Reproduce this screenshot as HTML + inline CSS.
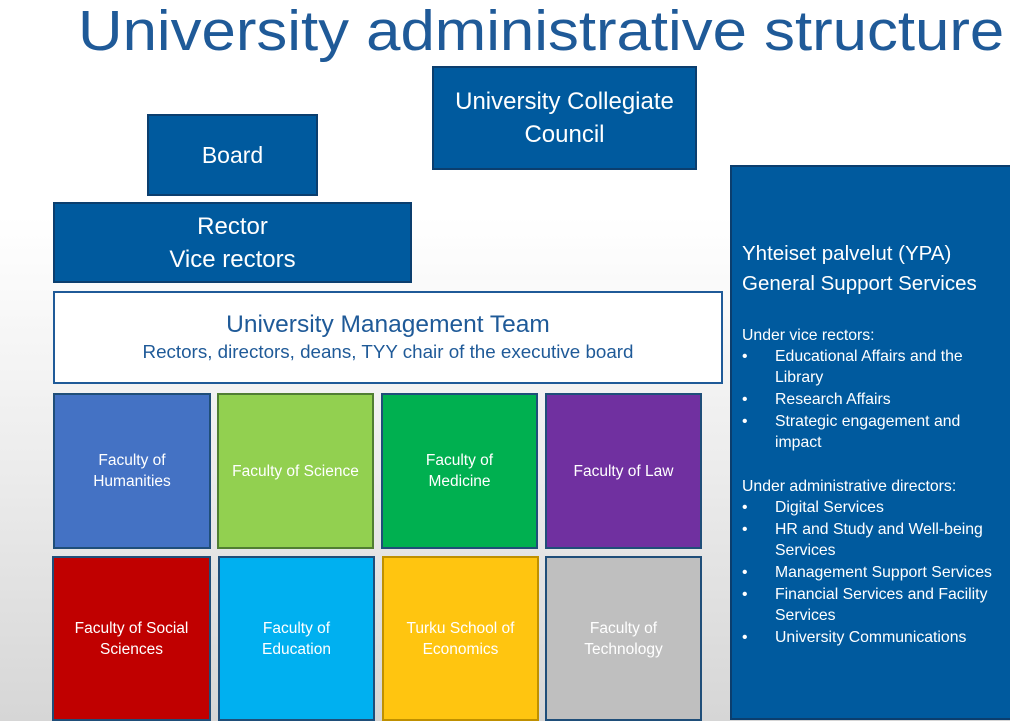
<!DOCTYPE html>
<html><head><meta charset="utf-8"><style>
*{margin:0;padding:0;box-sizing:border-box}
body{width:1010px;height:721px;overflow:hidden;position:relative;font-family:"Liberation Sans",sans-serif;background:linear-gradient(#ffffff 0%,#ffffff 30%,#ececec 65%,#d6d6d6 100%)}
.b{position:absolute;display:flex;align-items:center;justify-content:center;text-align:center;color:#fff}
.blue{background:#005a9e;border:2px solid #0b3e6e}
.f{border:2px solid #1f4e79;font-size:15.5px;line-height:21px}
.t{position:absolute;color:#fff;font-size:15.8px;white-space:nowrap;line-height:20px}
</style></head><body>
<div style="position:absolute;left:78px;top:-2px;font-size:57px;color:#1f5a98;white-space:nowrap;line-height:66px;transform:scaleX(1.083);transform-origin:0 0">University administrative structure</div>
<div class="b blue" style="left:432px;top:66px;width:265px;height:104px;font-size:24px;line-height:33px">University Collegiate<br>Council</div>
<div class="b blue" style="left:147px;top:114px;width:171px;height:82px;font-size:23px">Board</div>
<div class="b blue" style="left:53px;top:202px;width:359px;height:81px;font-size:24px;line-height:33px">Rector<br>Vice rectors</div>
<div class="b" style="left:53px;top:291px;width:670px;height:93px;background:#fff;border:2px solid #1f5a98;color:#1f5a98;flex-direction:column">
<div style="font-size:24.5px;line-height:29px">University Management Team</div>
<div style="font-size:18.8px;line-height:26px">Rectors, directors, deans, TYY chair of the executive board</div></div>
<div class="b f" style="left:53px;top:393px;width:158px;height:156px;background:#4472c4">Faculty of<br>Humanities</div>
<div class="b f" style="left:217px;top:393px;width:157px;height:156px;background:#92d050;border-color:#507e32">Faculty of Science</div>
<div class="b f" style="left:381px;top:393px;width:157px;height:156px;background:#00b050">Faculty of<br>Medicine</div>
<div class="b f" style="left:545px;top:393px;width:157px;height:156px;background:#7030a0">Faculty of Law</div>
<div class="b f" style="left:52px;top:556px;width:159px;height:165px;background:#c00000">Faculty of Social<br>Sciences</div>
<div class="b f" style="left:218px;top:556px;width:157px;height:165px;background:#00b0f0">Faculty of<br>Education</div>
<div class="b f" style="left:382px;top:556px;width:157px;height:165px;background:#ffc510;border-color:#bf9000">Turku School of<br>Economics</div>
<div class="b f" style="left:545px;top:556px;width:157px;height:165px;background:#bfbfbf">Faculty of<br>Technology</div>
<div style="position:absolute;left:730px;top:165px;width:290px;height:555px;background:#005a9e;border:2px solid #0b3e6e"></div>
<div class="t" style="left:742px;top:239px;font-size:20.5px;line-height:30px">Yhteiset palvelut (YPA)<br>General Support Services</div>
<div class="t" style="left:742px;top:326px">Under vice rectors:</div>
<div class="t" style="left:742px;top:347px">•</div><div class="t" style="left:775px;top:347px">Educational Affairs and the</div>
<div class="t" style="left:775px;top:368px">Library</div>
<div class="t" style="left:742px;top:390px">•</div><div class="t" style="left:775px;top:390px">Research Affairs</div>
<div class="t" style="left:742px;top:412px">•</div><div class="t" style="left:775px;top:412px">Strategic engagement and</div>
<div class="t" style="left:775px;top:433px">impact</div>
<div class="t" style="left:742px;top:477px">Under administrative directors:</div>
<div class="t" style="left:742px;top:498px">•</div><div class="t" style="left:775px;top:498px">Digital Services</div>
<div class="t" style="left:742px;top:520px">•</div><div class="t" style="left:775px;top:520px">HR and Study and Well-being</div>
<div class="t" style="left:775px;top:541px">Services</div>
<div class="t" style="left:742px;top:563px">•</div><div class="t" style="left:775px;top:563px">Management Support Services</div>
<div class="t" style="left:742px;top:585px">•</div><div class="t" style="left:775px;top:585px">Financial Services and Facility</div>
<div class="t" style="left:775px;top:606px">Services</div>
<div class="t" style="left:742px;top:628px">•</div><div class="t" style="left:775px;top:628px">University Communications</div>
</body></html>
